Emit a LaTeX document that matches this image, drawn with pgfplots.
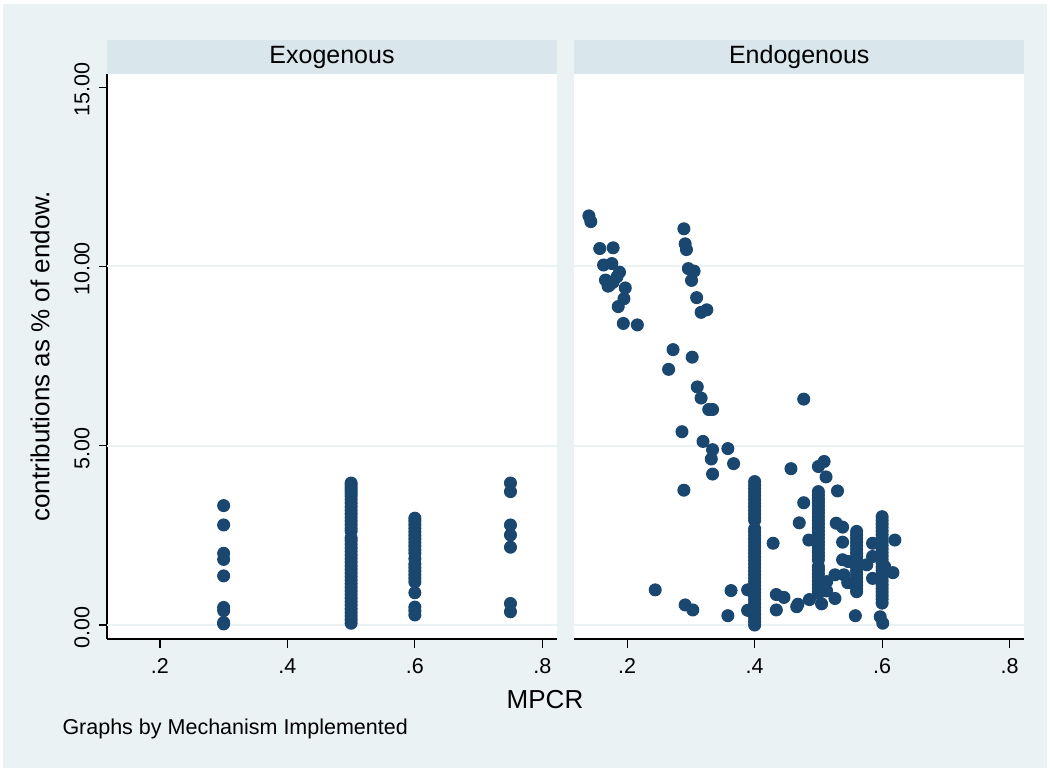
\documentclass[border=0pt]{standalone}
\usepackage{fontspec}
\setmainfont{Liberation Sans}
\usepackage{pgfplots}
\pgfplotsset{compat=1.18}
\definecolor{bgc}{RGB}{234,242,243}
\definecolor{stripc}{RGB}{217,230,235}
\definecolor{gridc}{RGB}{234,242,243}
\definecolor{mk}{RGB}{26,71,111}
\begin{document}
\begin{tikzpicture}
\fill[white] (0pt,0pt) rectangle (420pt,308.4pt);
\fill[bgc] (1.2pt,1.2pt) rectangle (418.8pt,306.8pt);
\pgfplotsset{
  panel/.style={
    scale only axis, width=180pt, height=225.9pt, anchor=south west,
    xmin=0.117, xmax=0.823, ymin=-0.39, ymax=15.36,
    axis x line*=bottom, axis y line*=left, axis line style={-, black, line width=0.5pt},
    axis background/.style={fill=white},
    xtick={0.2,0.4,0.6,0.8}, xticklabels={.2,.4,.6,.8},
    ytick={0,5,10,15},
    tick align=outside, major tick length=3.4pt,
    every tick/.style={black, line width=0.5pt},
    extra y ticks={0,5,10}, extra y tick labels={},
    extra y tick style={ymajorgrids=true, major tick length=0pt, grid style={gridc, line width=0.8pt}},
    tick label style={font=\fontsize{8.6}{10}\selectfont},
    xticklabel style={yshift=-1pt},
    clip=false,
  },
  pts/.style={only marks, mark=*, mark size=2.4pt, mark options={fill=mk, draw=mk}},
}
\begin{axis}[panel, name=L, at={(42.8pt,52.8pt)},
  yticklabels={0.00,5.00,10.00,15.00},
  yticklabel style={rotate=90, anchor=south, xshift=-1pt}]
\addplot[pts] coordinates {
(0.3,3.33)(0.3,2.79)(0.3,2.00)(0.3,1.83)(0.3,1.37)(0.3,0.49)(0.3,0.40)(0.3,0.07)(0.3,0.03)
(0.5,3.96)(0.5,3.90)(0.5,3.82)(0.5,3.75)(0.5,3.68)(0.5,3.60)(0.5,3.50)(0.5,3.40)(0.5,3.30)(0.5,3.20)(0.5,3.10)(0.5,3.00)(0.5,2.90)(0.5,2.80)(0.5,2.70)(0.5,2.62)
(0.5,2.43)(0.5,2.35)(0.5,2.25)(0.5,2.15)(0.5,2.05)(0.5,1.95)(0.5,1.85)(0.5,1.75)(0.5,1.65)(0.5,1.55)(0.5,1.45)(0.5,1.35)(0.5,1.25)(0.5,1.15)(0.5,1.05)(0.5,0.95)(0.5,0.85)(0.5,0.75)(0.5,0.65)(0.5,0.55)(0.5,0.45)(0.5,0.35)(0.5,0.25)(0.5,0.15)(0.5,0.05)
(0.6,2.98)(0.6,2.90)(0.6,2.80)(0.6,2.70)(0.6,2.60)(0.6,2.50)(0.6,2.40)(0.6,2.30)(0.6,2.20)(0.6,2.10)(0.6,2.00)(0.6,1.85)(0.6,1.70)(0.6,1.60)(0.6,1.50)(0.6,1.40)(0.6,1.30)(0.6,1.20)(0.6,0.90)(0.6,0.50)(0.6,0.40)(0.6,0.28)
(0.75,3.96)(0.75,3.72)(0.75,2.79)(0.75,2.51)(0.75,2.17)(0.75,0.60)(0.75,0.37)
};
\end{axis}
\begin{axis}[panel, name=R, at={(229.7pt,52.8pt)},
  yticklabels={}, y axis line style={draw=none}, ytick style={draw=none}]
\addplot[pts] coordinates {
(0.140,11.41)(0.143,11.25)(0.157,10.50)(0.178,10.52)(0.163,10.04)(0.176,10.08)(0.188,9.84)(0.184,9.71)(0.168,9.59)(0.172,9.47)(0.178,9.56)(0.166,9.62)(0.170,9.45)(0.197,9.40)(0.195,9.10)(0.186,8.88)(0.194,8.41)(0.216,8.37)
(0.289,11.05)(0.291,10.63)(0.293,10.47)(0.296,9.94)(0.305,9.87)(0.301,9.61)(0.309,9.13)(0.316,8.72)(0.325,8.79)
(0.272,7.68)(0.265,7.13)(0.302,7.47)(0.310,6.64)(0.316,6.33)(0.328,6.01)(0.334,6.01)(0.477,6.30)
(0.286,5.39)(0.319,5.12)(0.334,4.89)(0.358,4.92)(0.332,4.63)(0.367,4.50)(0.334,4.21)(0.289,3.76)
(0.457,4.36)(0.500,4.42)(0.509,4.56)(0.512,4.13)(0.530,3.74)(0.477,3.41)(0.470,2.85)(0.485,2.37)(0.429,2.28)
(0.244,0.98)(0.291,0.56)(0.303,0.42)(0.363,0.96)(0.389,0.98)(0.358,0.26)(0.389,0.41)
(0.434,0.85)(0.446,0.77)(0.434,0.42)(0.466,0.51)(0.468,0.58)(0.486,0.71)(0.505,0.59)
(0.513,1.21)(0.513,0.95)(0.526,0.74)(0.526,1.40)(0.540,1.40)(0.528,2.84)(0.538,2.73)(0.538,2.31)(0.538,1.82)(0.547,1.77)(0.546,1.18)
(0.558,0.26)(0.576,1.68)(0.585,1.91)(0.585,2.28)(0.585,1.30)(0.620,2.37)(0.617,1.46)(0.604,1.63)(0.597,0.23)(0.601,0.05)
(0.4,4.00)(0.4,3.90)(0.4,3.80)(0.4,3.70)(0.4,3.60)(0.4,3.50)(0.4,3.40)(0.4,3.30)(0.4,3.20)(0.4,3.10)(0.4,3.00)(0.4,2.92)
(0.4,2.68)(0.4,2.60)(0.4,2.50)(0.4,2.40)(0.4,2.30)(0.4,2.20)(0.4,2.10)(0.4,2.00)(0.4,1.90)(0.4,1.80)(0.4,1.70)(0.4,1.60)(0.4,1.50)(0.4,1.40)(0.4,1.30)(0.4,1.20)(0.4,1.10)(0.4,1.00)(0.4,0.90)(0.4,0.80)(0.4,0.70)(0.4,0.60)(0.4,0.50)(0.4,0.40)(0.4,0.30)(0.4,0.20)(0.4,0.10)(0.4,0.00)
(0.5,3.72)(0.5,3.62)(0.5,3.52)(0.5,3.42)(0.5,3.32)(0.5,3.22)(0.5,3.12)(0.5,3.02)(0.5,2.92)(0.5,2.82)(0.5,2.72)(0.5,2.62)(0.5,2.52)(0.5,2.42)(0.5,2.32)(0.5,2.22)(0.5,2.12)(0.5,2.02)(0.5,1.92)(0.5,1.82)
(0.5,1.63)(0.5,1.53)(0.5,1.43)(0.5,1.33)(0.5,1.23)(0.5,1.13)(0.5,1.03)(0.5,0.93)(0.5,0.88)
(0.56,2.61)(0.56,2.51)(0.56,2.41)(0.56,2.31)(0.56,2.21)(0.56,2.11)(0.56,2.01)(0.56,1.91)(0.56,1.81)(0.56,1.71)(0.56,1.61)(0.56,1.51)(0.56,1.41)(0.56,1.31)(0.56,1.21)(0.56,1.11)(0.56,1.01)(0.56,0.93)
(0.6,3.02)(0.6,2.92)(0.6,2.82)(0.6,2.72)(0.6,2.62)(0.6,2.52)(0.6,2.42)(0.6,2.32)(0.6,2.22)(0.6,2.12)(0.6,2.02)(0.6,1.92)(0.6,1.82)(0.6,1.72)(0.6,1.62)(0.6,1.52)(0.6,1.42)(0.6,1.32)(0.6,1.22)(0.6,1.12)(0.6,1.02)(0.6,0.92)(0.6,0.82)(0.6,0.72)(0.6,0.61)
};
\end{axis}
\fill[stripc] (L.north west) rectangle ([yshift=13.7pt]L.north east);
\fill[stripc] (R.north west) rectangle ([yshift=13.7pt]R.north east);
\node[font=\fontsize{10}{12}\selectfont] at ([yshift=6.85pt]L.north) {Exogenous};
\node[font=\fontsize{10}{12}\selectfont] at ([yshift=6.85pt]R.north) {Endogenous};
\node[rotate=90, font=\fontsize{10.4}{12}\selectfont] at (16pt,165.9pt) {contributions as \% of endow.};
\node[font=\fontsize{10.4}{12}\selectfont] at (218pt,28.4pt) {MPCR};
\node[anchor=west, inner sep=0pt, font=\fontsize{8.6}{10}\selectfont] at (24.8pt,16.8pt) {Graphs by Mechanism Implemented};
\end{tikzpicture}
\end{document}
